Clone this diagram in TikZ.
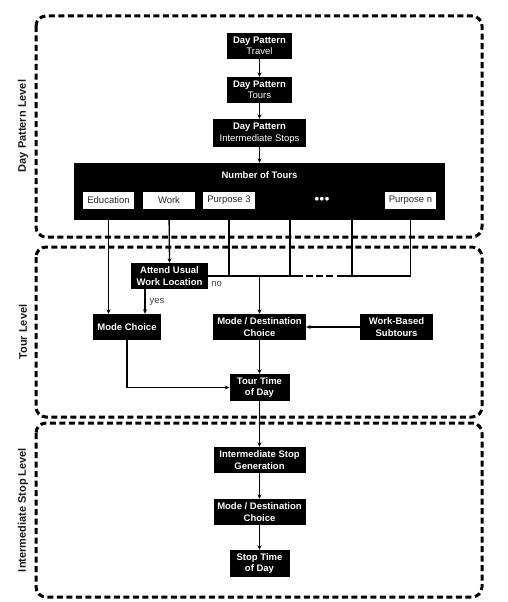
\documentclass[tikz,border=0pt]{standalone}
\usepackage{fontspec}
\setmainfont{Liberation Sans}
\usetikzlibrary{arrows.meta}
\begin{document}
\begin{tikzpicture}[x=1pt,y=-1pt,
  blk/.style={fill=black, text=white, font=\bfseries\fontsize{9.5}{11.5}\selectfont, align=center, inner sep=0pt},
  wbox/.style={fill=white, text=black!85, font=\fontsize{9.5}{11.5}\selectfont, inner sep=0pt, minimum height=17pt},
  level/.style={draw=black, line width=3pt, dash pattern=on 6pt off 3.5pt, rounded corners=10pt},
  lvllabel/.style={rotate=90, font=\bfseries\fontsize{11}{13}\selectfont, text=black!90},
  ln/.style={line width=1.3pt},
  arr/.style={line width=1.3pt, -{Stealth[length=4.5pt,width=4pt]}},
  lab/.style={font=\fontsize{9.5}{11.5}\selectfont, text=black!75, inner sep=0pt}
]
\useasboundingbox (0,0) rectangle (507,602);
% level frames
\draw[level] (36,16) rectangle (482,237);
\draw[level] (36,247) rectangle (482,417);
\draw[level] (36,423) rectangle (482,597);
\node[lvllabel] (l1) at (23,126) {Day Pattern Level};
\node[lvllabel] (l2) at (23,332) {Tour Level};
\node[lvllabel] (l3) at (23,510) {Intermediate Stop Level};

% day pattern
\node[blk, minimum width=65pt, minimum height=26pt] (dpt) at (259.5,46) {Day Pattern\\{\mdseries Travel}};
\node[blk, minimum width=65pt, minimum height=26pt] (dptours) at (259.5,90) {Day Pattern\\{\mdseries Tours}};
\node[blk, minimum width=93pt, minimum height=28pt] (dpis) at (259.5,133) {Day Pattern\\{\mdseries Intermediate Stops}};
\node[blk, minimum width=371pt, minimum height=57pt] (ntours) at (259.5,191.5) {};
\node[blk] (ntlabel) at (259.5,175) {Number of Tours};
\node[wbox, minimum width=51pt] (edu) at (108.5,200.5) {Education};
\node[wbox, minimum width=52pt] (work) at (169,200.5) {Work};
\node[wbox, minimum width=52pt] (p3) at (229,200.5) {Purpose 3};
\node[blk, font=\bfseries\fontsize{13}{13}\selectfont] (dots) at (322,200.5) {\textbullet\hspace{0.6pt}\textbullet\hspace{0.6pt}\textbullet};
\node[wbox, minimum width=51pt] (pn) at (410.5,200.5) {Purpose n};

\draw[arr] (dpt) -- (dptours);
\draw[arr] (dptours) -- (dpis);
\draw[arr] (dpis) -- (ntours);

% tour level
\node[blk, minimum width=77pt, minimum height=26pt] (attend) at (169.5,276) {Attend Usual\\Work Location};
\node[blk, minimum width=68pt, minimum height=26pt] (mc) at (127,327) {Mode Choice};
\node[blk, minimum width=93pt, minimum height=26pt] (mdc) at (259.5,327) {Mode / Destination\\Choice};
\node[blk, minimum width=73pt, minimum height=26pt] (wbs) at (396.5,327) {Work-Based\\Subtours};
\node[blk, minimum width=60pt, minimum height=27pt] (ttd) at (259.5,387.5) {Tour Time\\of Day};

\coordinate (j) at (259.5,276);
\coordinate (c4) at (290,276);
\coordinate (c5) at (352,276);
\coordinate (d1) at (303,276);
\coordinate (d2) at (337,276);
\coordinate (yx) at (145,276);
\coordinate (mcb) at (127,387.5);

\draw[arr] (edu.south) -- (edu.south |- mc.north);
\draw[arr] (work.south) -- (attend.north);
\draw[arr] (attend.south -| yx) -- (mc.north -| yx) node[lab, pos=0.5, right=4pt] (yes) {yes};
\node[lab, anchor=north west] (no) at ([xshift=3pt,yshift=-5pt]attend.east) {no};
\draw[ln] (p3.south) -- (p3.south |- j);
\draw[ln] (ntours.south -| c4) -- (c4);
\draw[ln] (ntours.south -| c5) -- (c5);
\draw[ln] (pn.south) -- (pn.south |- j);
\draw[ln] (attend.east) -- (d1);
\draw[ln, dash pattern=on 0pt off 3pt on 7pt off 3pt on 7pt off 3pt on 7pt off 3pt] (d1) -- (d2);
\draw[ln] (d2) -- (pn.south |- j);
\draw[arr] (j) -- (mdc.north);
\draw[arr] (wbs.west) -- (mdc.east);
\draw[arr] (mdc.south) -- (ttd.north);
\draw[arr] (mc.south) -- (mcb) -- (ttd.west);

% intermediate stop level
\node[blk, minimum width=92pt, minimum height=26pt] (isg) at (259.5,460) {Intermediate Stop\\Generation};
\node[blk, minimum width=92pt, minimum height=26pt] (mdc2) at (259.5,512) {Mode / Destination\\Choice};
\node[blk, minimum width=60pt, minimum height=27pt] (std) at (259.5,563.5) {Stop Time\\of Day};
\draw[arr] (ttd.south) -- (isg.north);
\draw[arr] (isg) -- (mdc2);
\draw[arr] (mdc2) -- (std);
\end{tikzpicture}
\end{document}
